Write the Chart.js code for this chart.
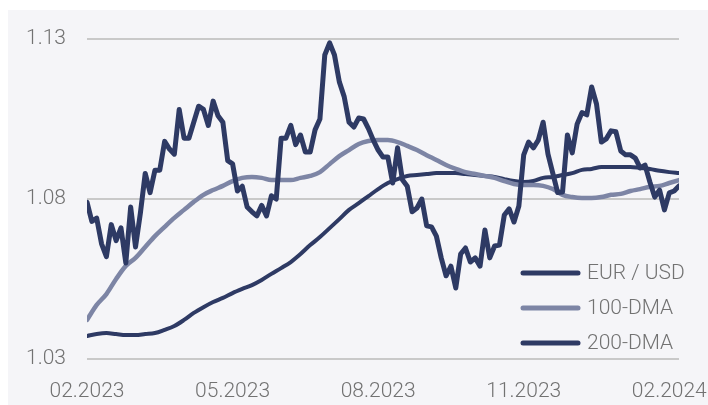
<!DOCTYPE html>
<html>
<head>
<meta charset="utf-8">
<script src="https://cdn.jsdelivr.net/npm/chart.js@4.4.1/dist/chart.umd.min.js"></script>
<style>
  html, body { margin: 0; padding: 0; background: #ffffff; }
  #wrap { position: absolute; left: 8px; top: 10px; width: 700px; height: 395px; background: #f5f5f8; }
</style>
</head>
<body>
<div id="wrap"><canvas id="fxChart"></canvas></div>
<script>
// x positions are trading-step indices; one tick label every 30 steps
var tickLabels = ["02.2023", "05.2023", "08.2023", "11.2023", "02.2024"];
var tickStep = 30;
var lastIndex = 122;

var eurUsd = [
  1.079, 1.073, 1.074, 1.066, 1.062, 1.072, 1.067, 1.071, 1.060, 1.0775,
  1.065, 1.0756, 1.088, 1.082, 1.089, 1.089, 1.098, 1.0956, 1.094, 1.108,
  1.099, 1.099, 1.104, 1.109, 1.108, 1.103, 1.1106, 1.106, 1.104, 1.092,
  1.091, 1.0825, 1.084, 1.0775, 1.076, 1.0747, 1.078, 1.0747, 1.081, 1.080,
  1.099, 1.099, 1.103, 1.097, 1.100, 1.0947, 1.0947, 1.1016, 1.105, 1.125,
  1.1288, 1.125, 1.1166, 1.112, 1.104, 1.1025, 1.1053, 1.105, 1.102, 1.0984,
  1.0953, 1.0931, 1.0931, 1.085, 1.096, 1.086, 1.084, 1.076, 1.0772, 1.080,
  1.0716, 1.0713, 1.0684, 1.0616, 1.056, 1.059, 1.0522, 1.0628, 1.0647, 1.0603,
  1.0616, 1.059, 1.0703, 1.0616, 1.0653, 1.0656, 1.075, 1.0769, 1.0728, 1.0778,
  1.0938, 1.0978, 1.096, 1.0984, 1.104, 1.094, 1.088, 1.082, 1.0822, 1.100,
  1.0944, 1.1034, 1.107, 1.1063, 1.115, 1.1097, 1.0978, 1.0988, 1.1013, 1.101,
  1.095, 1.0938, 1.0938, 1.0928, 1.0897, 1.0906, 1.0853, 1.0806, 1.0828, 1.0766,
  1.0819, 1.0825, 1.0841
];

// moving averages, one value every 2 steps
var maStep = 2;
var dma100 = [
  1.0422, 1.0469, 1.0503, 1.055, 1.0591, 1.0616, 1.065, 1.0684, 1.0713, 1.0741,
  1.0766, 1.0791, 1.0813, 1.0828, 1.0841, 1.0856, 1.0866, 1.0869, 1.0866, 1.0859,
  1.0859, 1.0859, 1.0866, 1.0872, 1.0884, 1.0909, 1.0934, 1.0953, 1.0972, 1.0981,
  1.0984, 1.0984, 1.0978, 1.0966, 1.0953, 1.0937, 1.0922, 1.0906, 1.0894, 1.0884,
  1.0878, 1.0872, 1.0866, 1.0856, 1.0847, 1.0844, 1.0844, 1.0841, 1.0831, 1.0813,
  1.0806, 1.0803, 1.0803, 1.0806, 1.0813, 1.0816, 1.0825, 1.0831, 1.0838, 1.0841,
  1.085, 1.0859
];
var dma200 = [
  1.0372, 1.0378, 1.0381, 1.0378, 1.0375, 1.0375, 1.0378, 1.0381, 1.0391, 1.0403,
  1.0422, 1.0444, 1.0462, 1.0478, 1.0491, 1.0506, 1.0519, 1.0531, 1.0547, 1.0566,
  1.0584, 1.0603, 1.0628, 1.0656, 1.0681, 1.0709, 1.0737, 1.0766, 1.0787, 1.0809,
  1.0831, 1.085, 1.0862, 1.0872, 1.0875, 1.0878, 1.0881, 1.0881, 1.0881, 1.0878,
  1.0875, 1.0872, 1.0869, 1.0862, 1.0856, 1.0853, 1.0856, 1.0866, 1.0869, 1.0875,
  1.0881, 1.0891, 1.0894, 1.09, 1.09, 1.09, 1.09, 1.0897, 1.0894, 1.0888,
  1.0884, 1.0881
];

var seriesNames = ["EUR / USD", "100-DMA", "200-DMA"];
var yTicks = [1.03, 1.08, 1.13];

var navy = "#2e3a64";
var slate = "#7d85a5";
var textGrey = "#727272";
var fontFamily = "Roboto, 'Open Sans', sans-serif";

function toPoints(values, step) {
  return values.map(function (v, i) { return { x: i * step, y: v }; });
}

// legend drawn inside the plot, bottom right
var insideLegend = {
  id: "insideLegend",
  afterDatasetsDraw: function (chart) {
    var ctx = chart.ctx;
    var x0 = chart.chartArea.right - 156;
    var y0 = chart.chartArea.bottom - 86;
    ctx.save();
    ctx.font = "300 21px " + fontFamily;
    ctx.textBaseline = "middle";
    chart.data.datasets.forEach(function (ds, i) {
      var y = y0 + i * 35;
      ctx.strokeStyle = ds.borderColor;
      ctx.lineWidth = 5;
      ctx.lineCap = "round";
      ctx.beginPath();
      ctx.moveTo(x0, y);
      ctx.lineTo(x0 + 55, y);
      ctx.stroke();
      ctx.fillStyle = textGrey;
      ctx.fillText(ds.label, x0 + 64, y + 1);
    });
    ctx.restore();
  }
};

new Chart(document.getElementById("fxChart"), {
  type: "line",
  data: {
    datasets: [
      { label: seriesNames[0], data: toPoints(eurUsd, 1), borderColor: navy, borderWidth: 5, tension: 0, borderJoinStyle: "round", borderCapStyle: "round" },
      { label: seriesNames[1], data: toPoints(dma100, maStep), borderColor: slate, borderWidth: 4.5, tension: 0.4, cubicInterpolationMode: "monotone", borderCapStyle: "round" },
      { label: seriesNames[2], data: toPoints(dma200, maStep), borderColor: navy, borderWidth: 4, tension: 0.4, cubicInterpolationMode: "monotone", borderCapStyle: "round" }
    ]
  },
  options: {
    responsive: true,
    maintainAspectRatio: false,
    animation: false,
    events: [],
    elements: { point: { radius: 0 } },
    layout: { padding: { top: 29, right: 29, left: 0, bottom: 0 } },
    plugins: { legend: { display: false }, tooltip: { enabled: false } },
    scales: {
      x: {
        type: "linear",
        min: 0,
        max: lastIndex,
        afterBuildTicks: function (scale) {
          scale.ticks = tickLabels.map(function (_, i) { return { value: i * tickStep }; });
        },
        afterFit: function (scale) {
          scale.height = 46;
          scale.paddingLeft = 0;
          scale.paddingRight = 0;
        },
        grid: { display: false },
        border: { display: false },
        ticks: {
          autoSkip: false,
          maxRotation: 0,
          padding: 12,
          color: textGrey,
          font: { family: fontFamily, size: 21, weight: "300" },
          callback: function (value) { return tickLabels[Math.round(value / tickStep)]; }
        }
      },
      y: {
        min: yTicks[0],
        max: yTicks[yTicks.length - 1],
        afterBuildTicks: function (scale) {
          scale.ticks = yTicks.map(function (v) { return { value: v }; });
        },
        afterFit: function (scale) {
          scale.width = 79;
          scale.paddingTop = 0;
          scale.paddingBottom = 0;
        },
        grid: { color: "#c9c9c9", lineWidth: 2, drawTicks: false },
        border: { display: false },
        ticks: {
          padding: 21,
          color: textGrey,
          font: { family: fontFamily, size: 21, weight: "300" },
          callback: function (value) { return value.toFixed(2); }
        }
      }
    }
  },
  plugins: [insideLegend]
});
</script>
</body>
</html>
